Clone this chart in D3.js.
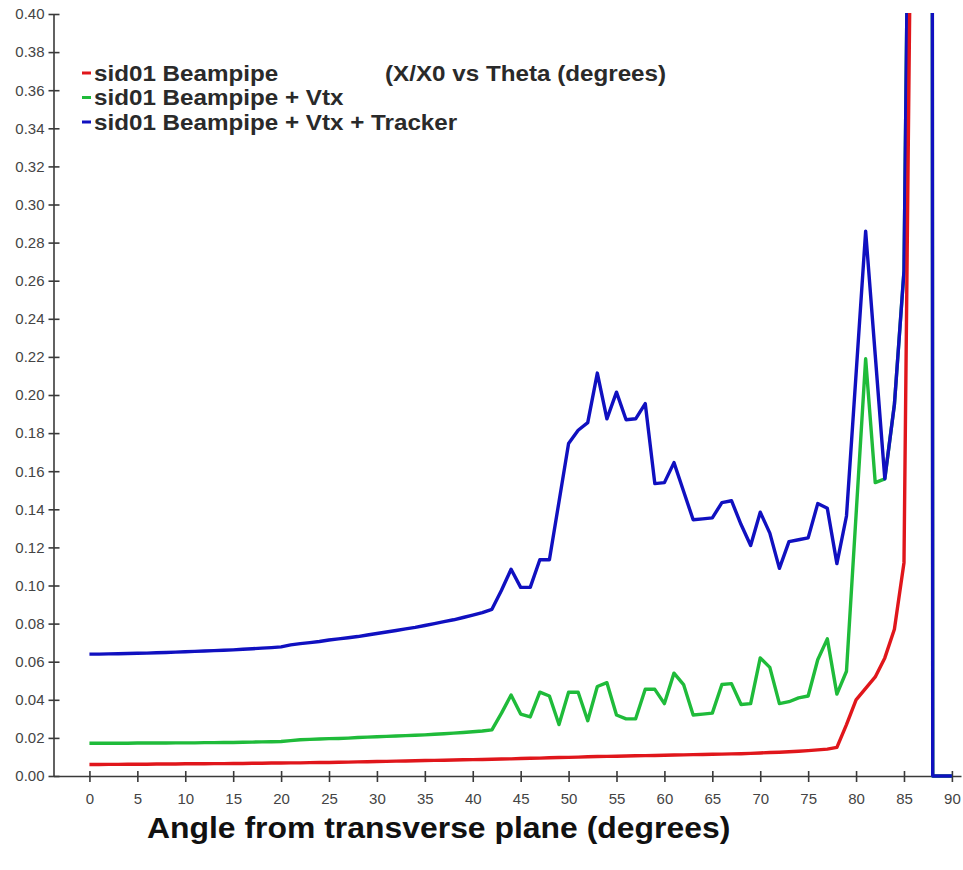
<!DOCTYPE html>
<html>
<head>
<meta charset="utf-8">
<script src="https://cdn.jsdelivr.net/npm/d3@7"></script>
<style>
  body { margin: 0; background: #fff; }
  svg { display: block; }
  .axis path, .axis line { stroke: #3a3a3a; stroke-width: 1.6px; }
  .axis text { font-family: "Liberation Sans", Arial, sans-serif; font-size: 15px; fill: #444; }
  .lbl { font-family: "Liberation Sans", Arial, sans-serif; font-weight: bold; fill: #2a2a2a; }
</style>
</head>
<body>
<svg id="chart" width="963" height="870"></svg>
<script>
// angle from transverse plane (degrees)
let thetas = [0,1,2,3,4,5,6,7,8,9,10,11,12,13,14,15,16,17,18,19,20,21,22,23,24,25,26,27,28,29,
  30,31,32,33,34,35,36,37,38,39,40,41,42,43,44,45,46,47,48,49,50,51,52,53,54,55,56,57,58,59,
  60,61,62,63,64,65,66,67,68,69,70,71,72,73,74,75,76,77,78,79,80,81,82,83,84,85,86,87,88,89,90];

// X/X0 - beampipe only
let beampipe = [0.0060,0.0060,0.0061,0.0061,0.0062,0.0062,0.0062,0.0063,0.0063,0.0063,
  0.0064,0.0064,0.0064,0.0065,0.0065,0.0066,0.0066,0.0067,0.0067,0.0068,
  0.0068,0.0069,0.0069,0.0070,0.0071,0.0071,0.0072,0.0073,0.0074,0.0075,
  0.0076,0.0077,0.0078,0.0079,0.0080,0.0081,0.0082,0.0083,0.0084,0.0085,
  0.0086,0.0087,0.0088,0.0089,0.0090,0.0092,0.0093,0.0094,0.0096,0.0097,
  0.0098,0.0099,0.0101,0.0102,0.0103,0.0104,0.0105,0.0106,0.0107,0.0108,
  0.0109,0.0110,0.0111,0.0112,0.0113,0.0114,0.0115,0.0116,0.0117,0.0119,
  0.0121,0.0123,0.0125,0.0127,0.0130,0.0133,0.0137,0.0141,0.0150,0.0270,
  0.0400,0.0460,0.0520,0.0620,0.0770,0.1120,0.6000,null,null,null,null];

// beampipe + vertex detector
let beampipeVtx = [0.0172,0.0172,0.0172,0.0172,0.0172,0.0173,0.0173,0.0173,0.0173,0.0174,
  0.0174,0.0174,0.0175,0.0175,0.0176,0.0176,0.0177,0.0178,0.0179,0.0180,
  0.0181,0.0186,0.0190,0.0192,0.0194,0.0196,0.0197,0.0199,0.0202,0.0204,
  0.0206,0.0208,0.0210,0.0212,0.0214,0.0216,0.0219,0.0222,0.0225,0.0228,
  0.0232,0.0236,0.0242,0.0330,0.0425,0.0325,0.0310,0.0440,0.0420,0.0270,
  0.0440,0.0440,0.0290,0.0470,0.0490,0.0320,0.0300,0.0300,0.0455,0.0455,
  0.0380,0.0540,0.0480,0.0320,0.0325,0.0330,0.0480,0.0485,0.0375,0.0380,
  0.0620,0.0570,0.0380,0.0390,0.0410,0.0420,0.0610,0.0720,0.0430,0.0550,
  0.1370,0.2190,0.1540,0.1560,0.1950,0.2650,0.7200,10,0,0,0];

// beampipe + vertex detector + tracker
let beampipeVtxTracker = [0.0640,0.0640,0.0641,0.0642,0.0643,0.0644,0.0645,0.0647,0.0648,0.0650,
  0.0652,0.0654,0.0656,0.0658,0.0660,0.0662,0.0665,0.0668,0.0671,0.0674,
  0.0678,0.0688,0.0695,0.0700,0.0706,0.0714,0.0720,0.0726,0.0732,0.0740,
  0.0748,0.0756,0.0764,0.0772,0.0780,0.0790,0.0800,0.0810,0.0820,0.0832,
  0.0845,0.0858,0.0875,0.0975,0.1085,0.0990,0.0990,0.1135,0.1135,0.1440,
  0.1745,0.1815,0.1855,0.2115,0.1875,0.2015,0.1870,0.1875,0.1955,0.1535,
  0.1540,0.1645,0.1495,0.1345,0.1350,0.1355,0.1435,0.1445,0.1320,0.1210,
  0.1385,0.1275,0.1090,0.1230,0.1240,0.1250,0.1430,0.1405,0.1115,0.1365,
  0.2110,0.2860,0.2210,0.1560,0.1950,0.2650,0.7200,10,0,0,0];

let seriesNames = ["sid01 Beampipe", "sid01 Beampipe + Vtx", "sid01 Beampipe + Vtx + Tracker"];
let seriesColors = ["#e0161b", "#1fbb3a", "#1010c0"];
let xTicks = [0,5,10,15,20,25,30,35,40,45,50,55,60,65,70,75,80,85,90];
let yTicks = [0,0.02,0.04,0.06,0.08,0.10,0.12,0.14,0.16,0.18,0.20,0.22,0.24,0.26,0.28,0.30,0.32,0.34,0.36,0.38,0.40];

let svg = d3.select("#chart");

let xScale = d3.scaleLinear().domain([-3.75, 90.95]).range([53.5, 961]);
let yScale = d3.scaleLinear().domain([0, 0.40]).range([776, 14]);

svg.append("clipPath").attr("id", "plotClip")
   .append("rect")
   .attr("x", xScale(-3.75)).attr("y", yScale(0.40) - 1)
   .attr("width", xScale(90.95) - xScale(-3.75))
   .attr("height", yScale(0) - yScale(0.40) + 3);

// axes
let xAxis = svg.append("g")
               .attr("class", "axis")
               .attr("transform", "translate(0," + yScale(0) + ")")
               .call(d3.axisBottom(xScale).tickValues(xTicks).tickSizeOuter(0).tickFormat(d3.format("d")));
xAxis.selectAll(".tick line").attr("y1", -5).attr("y2", 6);
xAxis.selectAll(".tick text").attr("y", 17);

let yAxis = svg.append("g")
               .attr("class", "axis")
               .attr("transform", "translate(" + xScale(-3.75) + ",0)")
               .call(d3.axisLeft(yScale).tickValues(yTicks).tickSizeOuter(0).tickFormat(d3.format(".2f")));
yAxis.selectAll(".tick line").attr("x1", -5).attr("x2", 6);
yAxis.selectAll(".tick text").attr("x", -9);

// lines
let allSeries = [beampipe, beampipeVtx, beampipeVtxTracker];
let drawOrder = [1, 2, 0];

let line = d3.line()
             .defined(d => d[1] !== null)
             .x(d => xScale(d[0]))
             .y(d => yScale(d[1]));

let plot = svg.append("g").attr("clip-path", "url(#plotClip)");
drawOrder.forEach(i => {
    plot.append("path")
        .datum(thetas.map((t, j) => [t, allSeries[i][j]]))
        .attr("fill", "none")
        .attr("stroke", seriesColors[i])
        .attr("stroke-width", 3.4)
        .attr("stroke-linejoin", "round")
        .attr("d", line);
});

// the original lettering is a little wide, stretch it by about 10%
let stretch = sel => sel.each(function () {
    let w = this.getComputedTextLength();
    d3.select(this).attr("textLength", w * 1.1).attr("lengthAdjust", "spacingAndGlyphs");
});

// legend
let legend = svg.append("g");
seriesNames.forEach((name, i) => {
    let y = 73 + i * 24.5;
    legend.append("line")
          .attr("x1", 82).attr("x2", 91)
          .attr("y1", y).attr("y2", y)
          .attr("stroke", seriesColors[i])
          .attr("stroke-width", 3);
    legend.append("text")
          .attr("class", "lbl")
          .attr("x", 94).attr("y", y)
          .attr("dy", "0.36em")
          .style("font-size", "22px")
          .text(name)
          .call(stretch);
});

legend.append("text")
      .attr("class", "lbl")
      .attr("x", 385).attr("y", 73)
      .attr("dy", "0.36em")
      .style("font-size", "22px")
      .text("(X/X0 vs Theta (degrees)")
      .call(stretch);

svg.append("text")
   .attr("class", "lbl")
   .attr("x", 147).attr("y", 828)
   .attr("dy", "0.36em")
   .style("font-size", "29px")
   .style("fill", "#111")
   .text("Angle from transverse plane (degrees)")
   .call(stretch);
</script>
</body>
</html>
